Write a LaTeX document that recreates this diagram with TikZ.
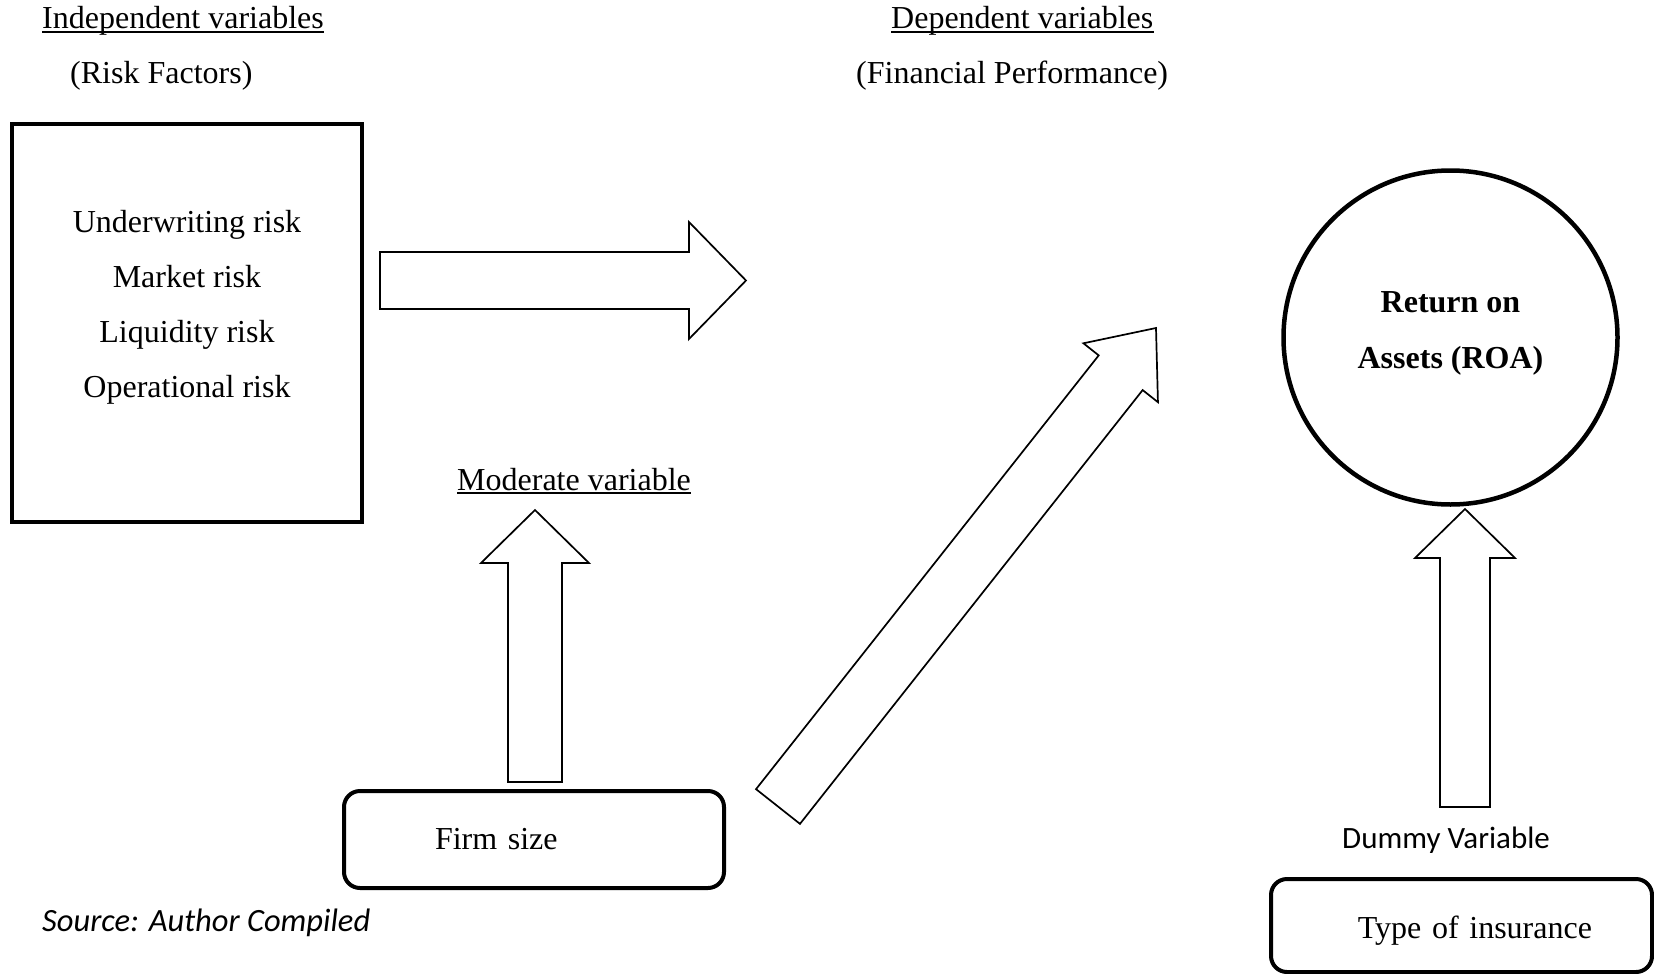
\documentclass[tikz,border=0pt]{standalone}
\usepackage{fontspec}
\setmainfont{Liberation Serif}
\newfontfamily\calibri{Carlito}
\usetikzlibrary{calc}

\tikzset{
  txt/.style={inner sep=0pt, anchor=base west},
  ulline/.style={line width=1.5pt},
  thickbox/.style={draw, line width=4pt},
  roundbox/.style={thickbox, rounded corners=16pt},
  blockarrow/.style={draw, line width=1.7pt, line join=miter, fill=white}
}

% block arrow: tail, tip, shaft half width, head half width, head length
\newcommand{\blockarrow}[5]{%
  \coordinate (ba-base) at ($(#2)!#5!(#1)$);
  \draw[blockarrow] ($(#1)!#3!90:(#2)$) -- ($(ba-base)!#3!90:(#2)$)
    -- ($(ba-base)!#4!90:(#2)$) -- (#2) -- ($(ba-base)!#4!-90:(#2)$)
    -- ($(ba-base)!#3!-90:(#2)$) -- ($(#1)!#3!-90:(#2)$) -- cycle;
}

\begin{document}
\begin{tikzpicture}[x=1pt,y=-1pt,every node/.style={font=\fontsize{32}{38}\selectfont}]
    \useasboundingbox (0,0) rectangle (1654,974);

    % headings
    \node[txt] (indep) at (42,29) {Independent variables};
    \node[txt] (riskf) at (70,83) {(Risk Factors)};
    \node[txt] (dep) at (891,29) {Dependent variables};
    \node[txt] (finp) at (856,83) {(Financial Performance)};
    \draw[ulline] ([yshift=-3pt]indep.base west) -- ([yshift=-3pt]indep.base east);
    \draw[ulline] ([yshift=-3pt]dep.base west) -- ([yshift=-3pt]dep.base east);

    % risk factors
    \node[thickbox, minimum width=350pt, minimum height=398pt] (risk) at (187,323) {};
    \node[inner sep=0pt, align=center, font=\fontsize{32}{55}\selectfont] (factors) at (187,307)
        {Underwriting risk\\Market risk\\Liquidity risk\\Operational risk};

    % moderating variable
    \node[txt] (moderate) at (457,490) {Moderate variable};
    \draw[ulline] ([yshift=-3pt]moderate.base west) -- ([yshift=-3pt]moderate.base east);
    \node[roundbox, minimum width=380pt, minimum height=97pt, inner xsep=91pt,
          text width=198pt, align=left] (firm) at (534,839.5) {Firm size};

    % dependent variable
    \node[draw, circle, line width=4.5pt, minimum size=334pt, align=center, text depth=15pt,
          font=\fontsize{32}{56}\selectfont\bfseries] (roa) at (1450.5,337.5) {Return on\\Assets (ROA)};

    % dummy variable
    \node[txt, font=\fontsize{31}{38}\selectfont\calibri] (dummy) at (1342,848) {Dummy Variable};
    \node[roundbox, minimum width=381pt, minimum height=93pt, inner xsep=60pt, text depth=0pt,
          text height=26pt, text width=261pt, align=right] (type) at (1461.5,925.5) {Type of insurance};

    \node[txt, font=\fontsize{32.5}{38}\selectfont\calibri\itshape] (source) at (42,931) {Source: Author Compiled};

    % arrows
    \coordinate (rf-tail) at (380,280.5);
    \coordinate (rf-tip) at (746,280.5);
    \coordinate (fs-tail) at (535,782);
    \coordinate (fs-tip) at (535,510);
    \coordinate (roa-tail) at (778,806.5);
    \coordinate (roa-tip) at (1156,328);
    \coordinate (dv-tail) at (1465,807);
    \coordinate (dv-tip) at (1465,509);
    \blockarrow{rf-tail}{rf-tip}{28.5pt}{58.5pt}{57pt}
    \blockarrow{fs-tail}{fs-tip}{27pt}{54pt}{53pt}
    \blockarrow{roa-tail}{roa-tip}{28pt}{47.5pt}{57pt}
    \blockarrow{dv-tail}{dv-tip}{25pt}{50pt}{49pt}
\end{tikzpicture}
\end{document}
